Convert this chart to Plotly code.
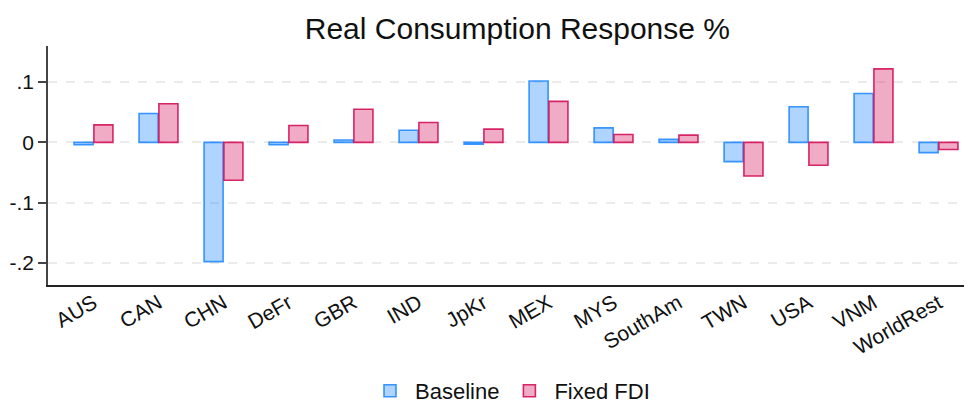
import plotly.graph_objects as go

categories = ["AUS", "CAN", "CHN", "DeFr", "GBR", "IND", "JpKr", "MEX",
              "MYS", "SouthAm", "TWN", "USA", "VNM", "WorldRest"]
baseline = [-0.004, 0.048, -0.198, -0.004, 0.004, 0.020, -0.003, 0.102,
            0.024, 0.005, -0.032, 0.059, 0.081, -0.017]
fixed_fdi = [0.029, 0.064, -0.063, 0.028, 0.055, 0.033, 0.022, 0.068,
             0.013, 0.012, -0.056, -0.038, 0.122, -0.012]
ytick_vals = [0.1, 0, -0.1, -0.2]
ytick_text = [".1", "0", "-.1", "-.2"]

FONT = "Liberation Sans, Arial, Helvetica, sans-serif"

# page body has an 8px default margin; figure is sized to fit the 972x404 window
W, H = 964, 396

fig = go.Figure()
fig.add_trace(go.Bar(
    x=categories, y=baseline, name="Baseline",
    marker=dict(color="rgba(26,133,255,0.35)",
                line=dict(color="rgba(26,133,255,0.85)", width=1.6)),
))
fig.add_trace(go.Bar(
    x=categories, y=fixed_fdi, name="Fixed FDI",
    marker=dict(color="rgba(212,17,89,0.35)",
                line=dict(color="rgba(212,17,89,0.9)", width=1.6)),
))

fig.update_layout(
    width=W, height=H,
    margin=dict(l=40, r=0, t=38, b=119, autoexpand=False),
    paper_bgcolor="white", plot_bgcolor="white",
    font=dict(family=FONT, size=20, color="#111"),
    barmode="group", bargap=0.39, bargroupgap=0.04,
    title=dict(text="Real Consumption Response %", font=dict(size=30, color="#111"),
               x=0.508, xref="paper", xanchor="center",
               y=1 - 20 / H, yref="container", yanchor="middle"),
    showlegend=True,
    legend=dict(orientation="h", x=0.5, xanchor="center",
                y=-0.4435, yanchor="middle", yref="paper",
                font=dict(size=22), itemwidth=40,
                traceorder="normal"),
    xaxis=dict(range=[-0.70, 13.515], showline=True, linecolor="#222",
               linewidth=1.5, ticks="", tickangle=-30, showgrid=False,
               tickfont=dict(size=21), automargin=False, ticklabelstandoff=-4),
    yaxis=dict(range=[-0.2369, 0.160], tickvals=ytick_vals, ticktext=ytick_text,
               showline=True, linecolor="#444", linewidth=1.5,
               ticks="outside", ticklen=8, tickcolor="#444", tickwidth=1.5,
               showgrid=True, gridcolor="#ebebeb", griddash="dash", gridwidth=1.5,
               zeroline=False, tickfont=dict(size=21), automargin=False),
)

fig.write_html("out.html")
